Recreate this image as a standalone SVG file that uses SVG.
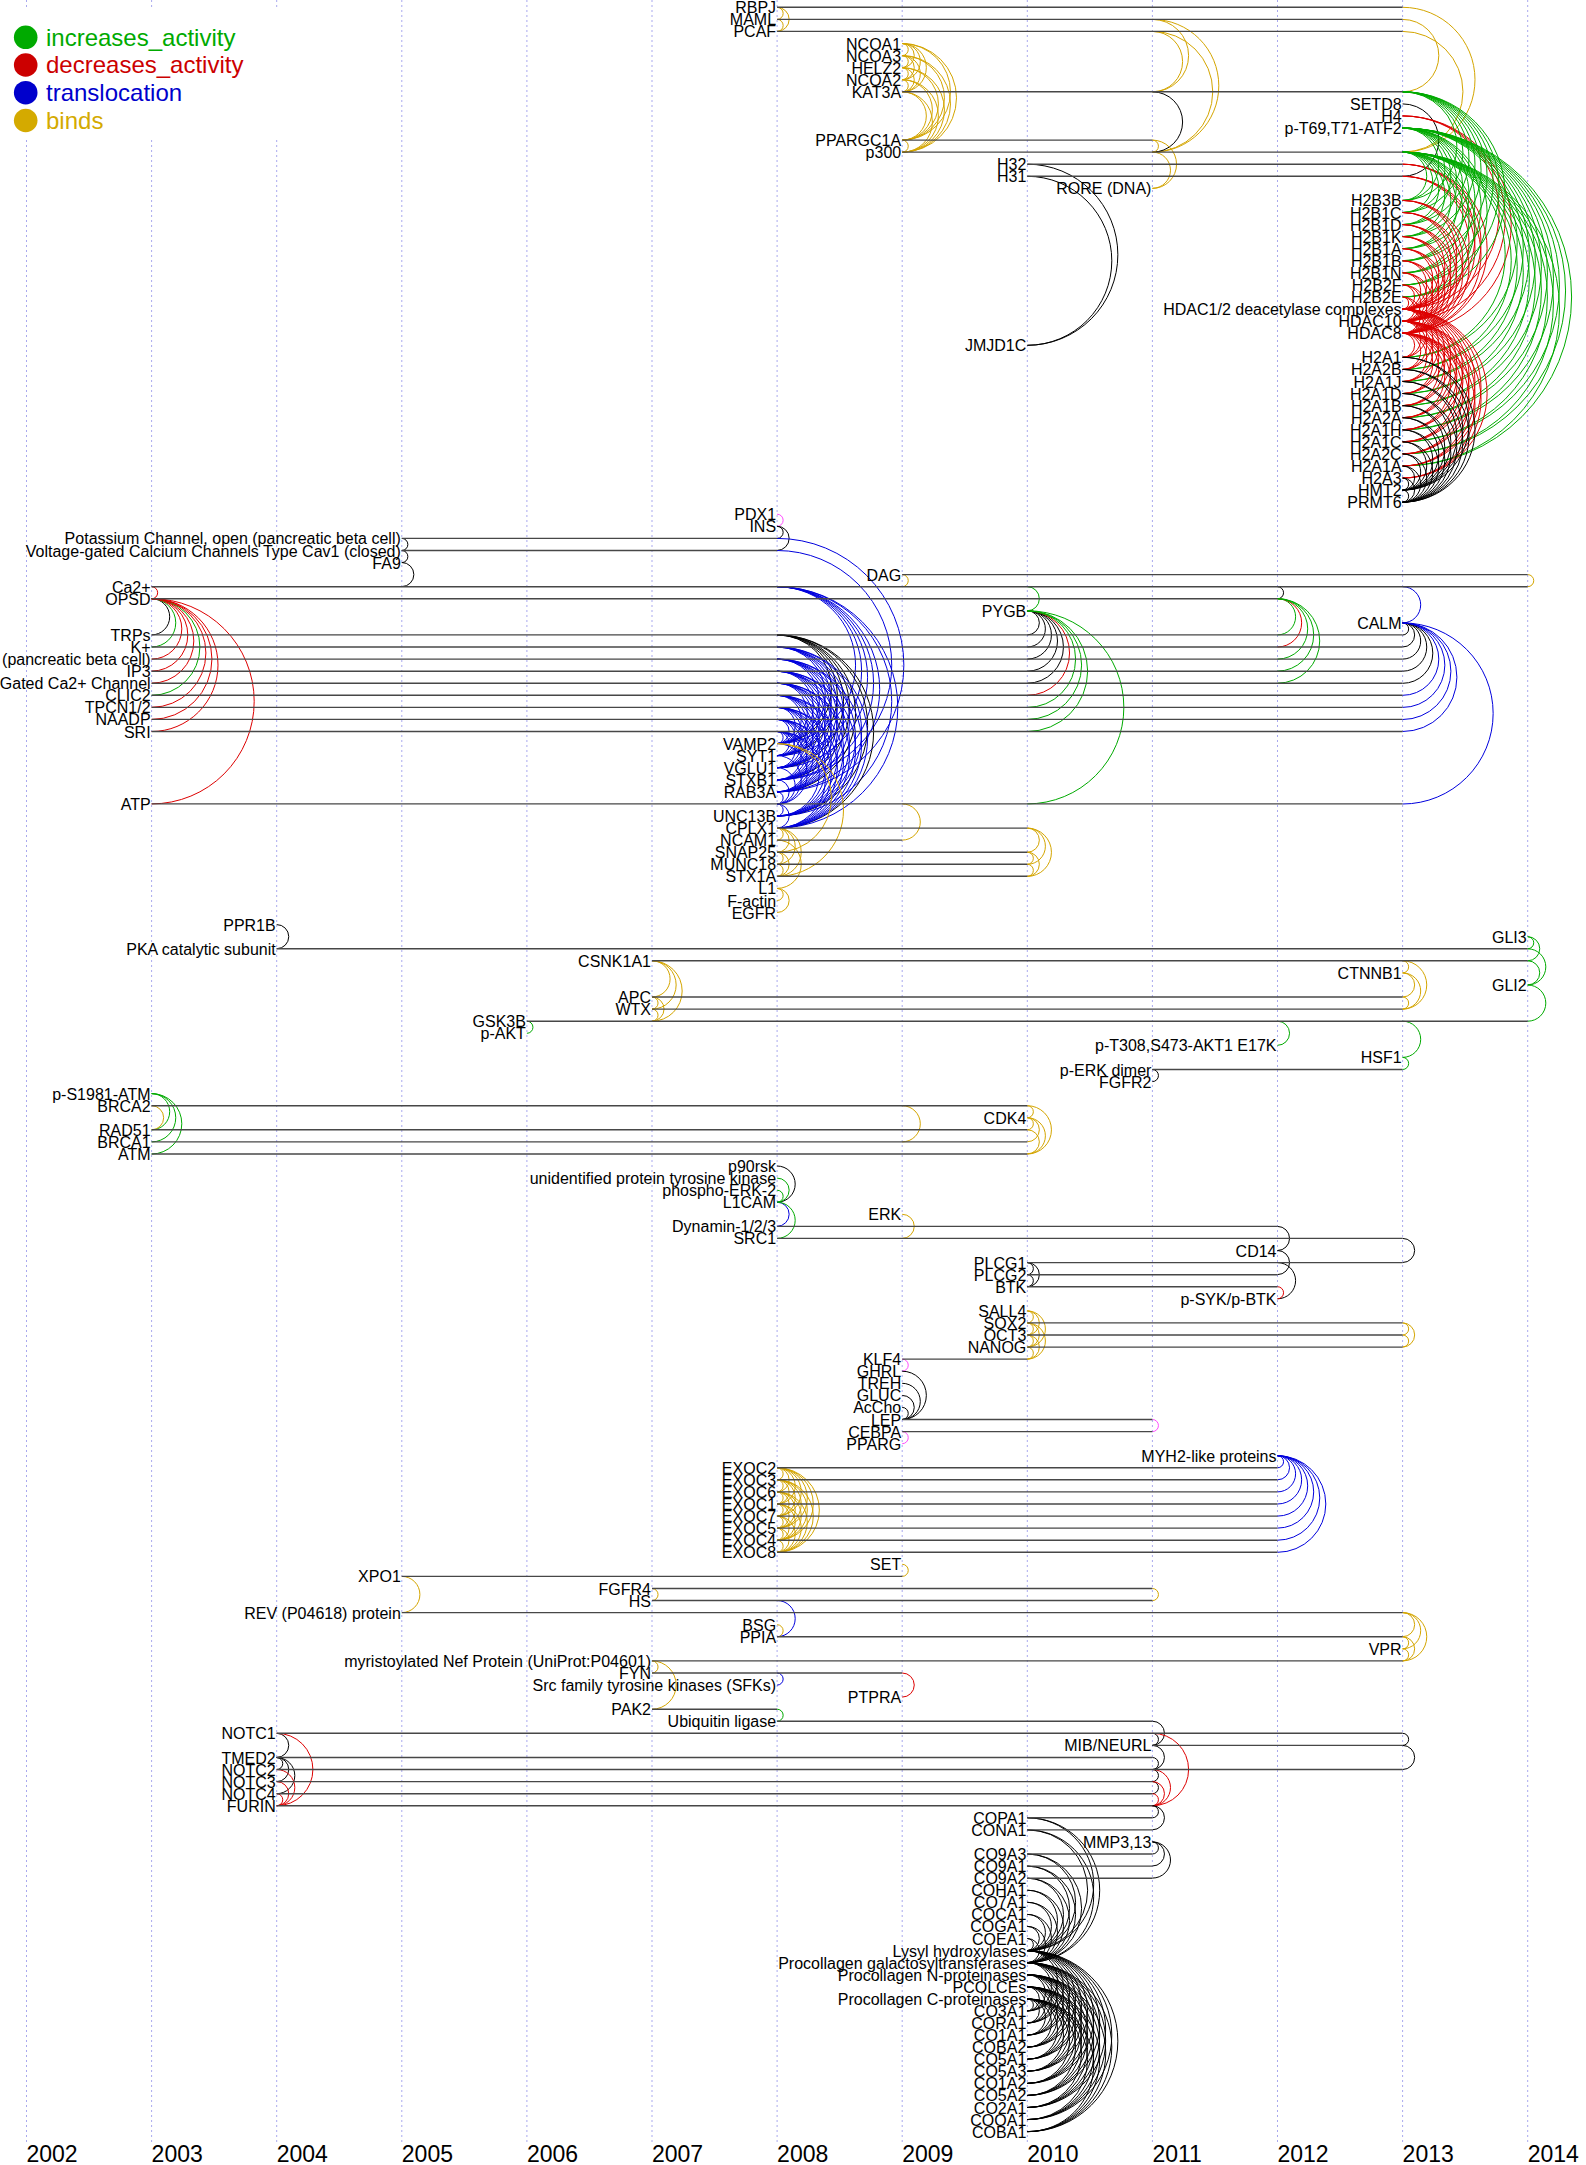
<svg xmlns="http://www.w3.org/2000/svg" width="1586" height="2165" viewBox="0 0 1586 2165">
<style>
text{font-family:"Liberation Sans",Arial,Helvetica,sans-serif;font-size:16px;fill:#000}
.n text{text-anchor:end}
.ln{stroke:#474747;stroke-width:1.4;fill:none}
.gl{stroke:#a9a9ee;stroke-width:1;stroke-dasharray:2,3;fill:none}
#connectors path{fill:none;stroke-width:1}
.g{stroke:#00aa00}.r{stroke:#dd0000}.b{stroke:#0000dd}.y{stroke:#d4a500}.k{stroke:#000}.m{stroke:#ff4dff}
.yr{font-size:23px}
.lt{font-size:24px}
</style>
<rect width="1586" height="2165" fill="#fff"/>
<g id="grid">
<path class="gl" d="M26.5 0V2142M151.6 0V2142M276.7 0V2142M401.8 0V2142M526.9 0V2142M652 0V2142M777.1 0V2142M902.2 0V2142M1027.3 0V2142M1152.4 0V2142M1277.5 0V2142M1402.6 0V2142M1527.7 0V2142"/>
</g>
<g id="legend">
<rect x="0" y="10" width="330" height="128" fill="#fff"/>
<circle cx="25.7" cy="37.3" r="11.8" fill="#00aa00"/>
<circle cx="25.7" cy="65" r="11.8" fill="#cc0000"/>
<circle cx="25.7" cy="92.7" r="11.8" fill="#0000cc"/>
<circle cx="25.7" cy="120.5" r="11.8" fill="#d4aa00"/>
<text class="lt" x="46" y="45.7" style="fill:#00aa00">increases_activity</text>
<text class="lt" x="46" y="73.4" style="fill:#cc0000">decreases_activity</text>
<text class="lt" x="46" y="101.1" style="fill:#0000cc">translocation</text>
<text class="lt" x="46" y="128.9" style="fill:#d4aa00">binds</text>
</g>
<g id="years">
<text class="yr" x="26.5" y="2162">2002</text>
<text class="yr" x="151.6" y="2162">2003</text>
<text class="yr" x="276.7" y="2162">2004</text>
<text class="yr" x="401.8" y="2162">2005</text>
<text class="yr" x="526.9" y="2162">2006</text>
<text class="yr" x="652" y="2162">2007</text>
<text class="yr" x="777.1" y="2162">2008</text>
<text class="yr" x="902.2" y="2162">2009</text>
<text class="yr" x="1027.3" y="2162">2010</text>
<text class="yr" x="1152.4" y="2162">2011</text>
<text class="yr" x="1277.5" y="2162">2012</text>
<text class="yr" x="1402.6" y="2162">2013</text>
<text class="yr" x="1527.7" y="2162">2014</text>
</g>
<g id="connectors">
<g transform="translate(151.6 0)">
<path class="r" d="M0 586.7a1 1 0 0 1 0 12.1"/>
<path class="k" d="M0 598.7a1 1 0 0 1 0 36.2"/>
<path class="g" d="M0 598.7a1 1 0 0 1 0 48.3"/>
<path class="r" d="M0 598.7a1 1 0 0 1 0 60.4"/>
<path class="r" d="M0 598.7a1 1 0 0 1 0 72.4"/>
<path class="r" d="M0 598.7a1 1 0 0 1 0 84.5"/>
<path class="g" d="M0 598.7a1 1 0 0 1 0 96.6"/>
<path class="r" d="M0 598.7a1 1 0 0 1 0 108.6"/>
<path class="r" d="M0 598.7a1 1 0 0 1 0 120.7"/>
<path class="r" d="M0 598.7a1 1 0 0 1 0 132.8"/>
<path class="r" d="M0 598.7a1 1 0 0 1 0 205.2"/>
<path class="g" d="M0 1093.6a1 1 0 0 1 0 36.2"/>
<path class="g" d="M0 1093.6a1 1 0 0 1 0 48.3"/>
<path class="g" d="M0 1093.6a1 1 0 0 1 0 60.4"/>
<path class="y" d="M0 1105.7a1 1 0 0 1 0 24.1"/>
</g>
<g transform="translate(276.7 0)">
<path class="k" d="M0 924.6a1 1 0 0 1 0 24.1"/>
<path class="k" d="M0 1733.3a1 1 0 0 1 0 24.1"/>
<path class="k" d="M0 1757.5a1 1 0 0 1 0 12.1"/>
<path class="k" d="M0 1757.5a1 1 0 0 1 0 24.1"/>
<path class="k" d="M0 1757.5a1 1 0 0 1 0 36.2"/>
<path class="r" d="M0 1733.3a1 1 0 0 1 0 72.4"/>
<path class="r" d="M0 1769.5a1 1 0 0 1 0 36.2"/>
<path class="r" d="M0 1781.6a1 1 0 0 1 0 24.1"/>
<path class="r" d="M0 1793.7a1 1 0 0 1 0 12.1"/>
</g>
<g transform="translate(401.8 0)">
<path class="k" d="M0 538.4a1 1 0 0 1 0 12.1"/>
<path class="k" d="M0 550.5a1 1 0 0 1 0 12.1"/>
<path class="k" d="M0 562.5a1 1 0 0 1 0 24.1"/>
<path class="y" d="M0 1576.4a1 1 0 0 1 0 36.2"/>
</g>
<g transform="translate(526.9 0)">
<path class="g" d="M0 1021.2a1 1 0 0 1 0 12.1"/>
</g>
<g transform="translate(652 0)">
<path class="y" d="M0 960.8a1 1 0 0 1 0 36.2"/>
<path class="y" d="M0 960.8a1 1 0 0 1 0 48.3"/>
<path class="y" d="M0 960.8a1 1 0 0 1 0 60.4"/>
<path class="y" d="M0 997a1 1 0 0 1 0 12.1"/>
<path class="y" d="M0 997a1 1 0 0 1 0 24.1"/>
<path class="y" d="M0 1009.1a1 1 0 0 1 0 12.1"/>
<path class="y" d="M0 1588.5a1 1 0 0 1 0 12.1"/>
<path class="y" d="M0 1660.9a1 1 0 0 1 0 12.1"/>
<path class="y" d="M0 1660.9a1 1 0 0 1 0 48.3"/>
</g>
<g transform="translate(777.1 0)">
<path class="y" d="M0 7.3a1 1 0 0 1 0 12.1"/>
<path class="y" d="M0 19.4a1 1 0 0 1 0 12.1"/>
<path class="y" d="M0 7.3a1 1 0 0 1 0 24.1"/>
<path class="m" d="M0 514.2a1 1 0 0 1 0 12.1"/>
<path class="k" d="M0 526.3a1 1 0 0 1 0 12.1"/>
<path class="k" d="M0 526.3a1 1 0 0 1 0 24.1"/>
<path class="b" d="M0 538.4a1 1 0 0 1 0 253.5"/>
<path class="b" d="M0 550.5a1 1 0 0 1 0 229.3"/>
<path class="b" d="M0 586.7a1 1 0 0 1 0 156.9"/>
<path class="b" d="M0 586.7a1 1 0 0 1 0 169"/>
<path class="b" d="M0 586.7a1 1 0 0 1 0 181.1"/>
<path class="b" d="M0 586.7a1 1 0 0 1 0 193.1"/>
<path class="b" d="M0 586.7a1 1 0 0 1 0 205.2"/>
<path class="b" d="M0 586.7a1 1 0 0 1 0 229.3"/>
<path class="b" d="M0 586.7a1 1 0 0 1 0 241.4"/>
<path class="k" d="M0 634.9a1 1 0 0 1 0 108.6"/>
<path class="k" d="M0 634.9a1 1 0 0 1 0 120.7"/>
<path class="k" d="M0 634.9a1 1 0 0 1 0 132.8"/>
<path class="k" d="M0 634.9a1 1 0 0 1 0 144.8"/>
<path class="k" d="M0 634.9a1 1 0 0 1 0 156.9"/>
<path class="k" d="M0 634.9a1 1 0 0 1 0 181.1"/>
<path class="k" d="M0 634.9a1 1 0 0 1 0 193.1"/>
<path class="b" d="M0 647a1 1 0 0 1 0 96.6"/>
<path class="b" d="M0 647a1 1 0 0 1 0 108.6"/>
<path class="b" d="M0 647a1 1 0 0 1 0 120.7"/>
<path class="b" d="M0 647a1 1 0 0 1 0 132.8"/>
<path class="b" d="M0 647a1 1 0 0 1 0 144.8"/>
<path class="b" d="M0 647a1 1 0 0 1 0 169"/>
<path class="b" d="M0 647a1 1 0 0 1 0 181.1"/>
<path class="b" d="M0 659.1a1 1 0 0 1 0 84.5"/>
<path class="b" d="M0 659.1a1 1 0 0 1 0 96.6"/>
<path class="b" d="M0 659.1a1 1 0 0 1 0 108.6"/>
<path class="b" d="M0 659.1a1 1 0 0 1 0 120.7"/>
<path class="b" d="M0 659.1a1 1 0 0 1 0 132.8"/>
<path class="b" d="M0 659.1a1 1 0 0 1 0 156.9"/>
<path class="b" d="M0 659.1a1 1 0 0 1 0 169"/>
<path class="b" d="M0 671.2a1 1 0 0 1 0 72.4"/>
<path class="b" d="M0 671.2a1 1 0 0 1 0 84.5"/>
<path class="b" d="M0 671.2a1 1 0 0 1 0 96.6"/>
<path class="b" d="M0 671.2a1 1 0 0 1 0 108.6"/>
<path class="b" d="M0 671.2a1 1 0 0 1 0 120.7"/>
<path class="b" d="M0 671.2a1 1 0 0 1 0 144.8"/>
<path class="b" d="M0 671.2a1 1 0 0 1 0 156.9"/>
<path class="b" d="M0 683.2a1 1 0 0 1 0 60.4"/>
<path class="b" d="M0 683.2a1 1 0 0 1 0 72.4"/>
<path class="b" d="M0 683.2a1 1 0 0 1 0 84.5"/>
<path class="b" d="M0 683.2a1 1 0 0 1 0 96.6"/>
<path class="b" d="M0 683.2a1 1 0 0 1 0 108.6"/>
<path class="b" d="M0 683.2a1 1 0 0 1 0 132.8"/>
<path class="b" d="M0 683.2a1 1 0 0 1 0 144.8"/>
<path class="b" d="M0 695.3a1 1 0 0 1 0 48.3"/>
<path class="b" d="M0 695.3a1 1 0 0 1 0 60.4"/>
<path class="b" d="M0 695.3a1 1 0 0 1 0 72.4"/>
<path class="b" d="M0 695.3a1 1 0 0 1 0 84.5"/>
<path class="b" d="M0 695.3a1 1 0 0 1 0 96.6"/>
<path class="b" d="M0 695.3a1 1 0 0 1 0 120.7"/>
<path class="b" d="M0 695.3a1 1 0 0 1 0 132.8"/>
<path class="b" d="M0 707.4a1 1 0 0 1 0 36.2"/>
<path class="b" d="M0 707.4a1 1 0 0 1 0 48.3"/>
<path class="b" d="M0 707.4a1 1 0 0 1 0 60.4"/>
<path class="b" d="M0 707.4a1 1 0 0 1 0 72.4"/>
<path class="b" d="M0 707.4a1 1 0 0 1 0 84.5"/>
<path class="b" d="M0 707.4a1 1 0 0 1 0 108.6"/>
<path class="b" d="M0 707.4a1 1 0 0 1 0 120.7"/>
<path class="b" d="M0 719.4a1 1 0 0 1 0 24.1"/>
<path class="b" d="M0 719.4a1 1 0 0 1 0 36.2"/>
<path class="b" d="M0 719.4a1 1 0 0 1 0 48.3"/>
<path class="b" d="M0 719.4a1 1 0 0 1 0 60.4"/>
<path class="b" d="M0 719.4a1 1 0 0 1 0 72.4"/>
<path class="b" d="M0 719.4a1 1 0 0 1 0 96.6"/>
<path class="b" d="M0 719.4a1 1 0 0 1 0 108.6"/>
<path class="b" d="M0 731.5a1 1 0 0 1 0 12.1"/>
<path class="b" d="M0 731.5a1 1 0 0 1 0 24.1"/>
<path class="b" d="M0 731.5a1 1 0 0 1 0 36.2"/>
<path class="b" d="M0 731.5a1 1 0 0 1 0 48.3"/>
<path class="b" d="M0 731.5a1 1 0 0 1 0 60.4"/>
<path class="b" d="M0 731.5a1 1 0 0 1 0 84.5"/>
<path class="b" d="M0 731.5a1 1 0 0 1 0 96.6"/>
<path class="b" d="M0 743.6a1 1 0 0 1 0 60.4"/>
<path class="b" d="M0 755.6a1 1 0 0 1 0 48.3"/>
<path class="b" d="M0 767.7a1 1 0 0 1 0 36.2"/>
<path class="b" d="M0 779.8a1 1 0 0 1 0 24.1"/>
<path class="b" d="M0 791.9a1 1 0 0 1 0 12.1"/>
<path class="b" d="M0 803.9a1 1 0 0 1 0 12.1"/>
<path class="b" d="M0 803.9a1 1 0 0 1 0 24.1"/>
<path class="y" d="M0 743.6a1 1 0 0 1 0 108.6"/>
<path class="y" d="M0 743.6a1 1 0 0 1 0 132.8"/>
<path class="y" d="M0 828.1a1 1 0 0 1 0 12.1"/>
<path class="y" d="M0 828.1a1 1 0 0 1 0 24.1"/>
<path class="y" d="M0 828.1a1 1 0 0 1 0 36.2"/>
<path class="y" d="M0 828.1a1 1 0 0 1 0 48.3"/>
<path class="y" d="M0 852.2a1 1 0 0 1 0 12.1"/>
<path class="y" d="M0 852.2a1 1 0 0 1 0 24.1"/>
<path class="y" d="M0 864.3a1 1 0 0 1 0 12.1"/>
<path class="y" d="M0 840.1a1 1 0 0 1 0 48.3"/>
<path class="y" d="M0 888.4a1 1 0 0 1 0 12.1"/>
<path class="y" d="M0 888.4a1 1 0 0 1 0 24.1"/>
<path class="k" d="M0 1166a1 1 0 0 1 0 36.2"/>
<path class="g" d="M0 1178.1a1 1 0 0 1 0 24.1"/>
<path class="g" d="M0 1190.2a1 1 0 0 1 0 12.1"/>
<path class="b" d="M0 1202.2a1 1 0 0 1 0 24.1"/>
<path class="g" d="M0 1202.2a1 1 0 0 1 0 36.2"/>
<path class="y" d="M0 1467.8a1 1 0 0 1 0 12.1"/>
<path class="y" d="M0 1467.8a1 1 0 0 1 0 24.1"/>
<path class="y" d="M0 1467.8a1 1 0 0 1 0 36.2"/>
<path class="y" d="M0 1467.8a1 1 0 0 1 0 48.3"/>
<path class="y" d="M0 1467.8a1 1 0 0 1 0 60.4"/>
<path class="y" d="M0 1467.8a1 1 0 0 1 0 72.4"/>
<path class="y" d="M0 1467.8a1 1 0 0 1 0 84.5"/>
<path class="y" d="M0 1479.8a1 1 0 0 1 0 12.1"/>
<path class="y" d="M0 1479.8a1 1 0 0 1 0 24.1"/>
<path class="y" d="M0 1479.8a1 1 0 0 1 0 36.2"/>
<path class="y" d="M0 1479.8a1 1 0 0 1 0 48.3"/>
<path class="y" d="M0 1479.8a1 1 0 0 1 0 60.4"/>
<path class="y" d="M0 1479.8a1 1 0 0 1 0 72.4"/>
<path class="y" d="M0 1491.9a1 1 0 0 1 0 12.1"/>
<path class="y" d="M0 1491.9a1 1 0 0 1 0 24.1"/>
<path class="y" d="M0 1491.9a1 1 0 0 1 0 36.2"/>
<path class="y" d="M0 1491.9a1 1 0 0 1 0 48.3"/>
<path class="y" d="M0 1491.9a1 1 0 0 1 0 60.4"/>
<path class="y" d="M0 1504a1 1 0 0 1 0 12.1"/>
<path class="y" d="M0 1504a1 1 0 0 1 0 24.1"/>
<path class="y" d="M0 1504a1 1 0 0 1 0 36.2"/>
<path class="y" d="M0 1504a1 1 0 0 1 0 48.3"/>
<path class="y" d="M0 1516.1a1 1 0 0 1 0 12.1"/>
<path class="y" d="M0 1516.1a1 1 0 0 1 0 24.1"/>
<path class="y" d="M0 1516.1a1 1 0 0 1 0 36.2"/>
<path class="y" d="M0 1528.1a1 1 0 0 1 0 12.1"/>
<path class="y" d="M0 1528.1a1 1 0 0 1 0 24.1"/>
<path class="y" d="M0 1540.2a1 1 0 0 1 0 12.1"/>
<path class="y" d="M0 1624.7a1 1 0 0 1 0 12.1"/>
<path class="b" d="M0 1600.5a1 1 0 0 1 0 36.2"/>
<path class="b" d="M0 1673a1 1 0 0 1 0 12.1"/>
<path class="g" d="M0 1709.2a1 1 0 0 1 0 12.1"/>
</g>
<g transform="translate(902.2 0)">
<path class="y" d="M0 43.5a1 1 0 0 1 0 12.1"/>
<path class="y" d="M0 43.5a1 1 0 0 1 0 24.1"/>
<path class="y" d="M0 43.5a1 1 0 0 1 0 36.2"/>
<path class="y" d="M0 43.5a1 1 0 0 1 0 48.3"/>
<path class="y" d="M0 43.5a1 1 0 0 1 0 96.6"/>
<path class="y" d="M0 43.5a1 1 0 0 1 0 108.6"/>
<path class="y" d="M0 55.6a1 1 0 0 1 0 12.1"/>
<path class="y" d="M0 55.6a1 1 0 0 1 0 24.1"/>
<path class="y" d="M0 55.6a1 1 0 0 1 0 36.2"/>
<path class="y" d="M0 55.6a1 1 0 0 1 0 84.5"/>
<path class="y" d="M0 55.6a1 1 0 0 1 0 96.6"/>
<path class="y" d="M0 67.7a1 1 0 0 1 0 12.1"/>
<path class="y" d="M0 67.7a1 1 0 0 1 0 24.1"/>
<path class="y" d="M0 67.7a1 1 0 0 1 0 72.4"/>
<path class="y" d="M0 67.7a1 1 0 0 1 0 84.5"/>
<path class="y" d="M0 79.7a1 1 0 0 1 0 12.1"/>
<path class="y" d="M0 79.7a1 1 0 0 1 0 60.4"/>
<path class="y" d="M0 79.7a1 1 0 0 1 0 72.4"/>
<path class="y" d="M0 91.8a1 1 0 0 1 0 48.3"/>
<path class="y" d="M0 91.8a1 1 0 0 1 0 60.4"/>
<path class="y" d="M0 140.1a1 1 0 0 1 0 12.1"/>
<path class="y" d="M0 574.6a1 1 0 0 1 0 12.1"/>
<path class="y" d="M0 803.9a1 1 0 0 1 0 36.2"/>
<path class="y" d="M0 1105.7a1 1 0 0 1 0 36.2"/>
<path class="y" d="M0 1214.3a1 1 0 0 1 0 24.1"/>
<path class="m" d="M0 1359.1a1 1 0 0 1 0 12.1"/>
<path class="k" d="M0 1371.2a1 1 0 0 1 0 48.3"/>
<path class="k" d="M0 1383.3a1 1 0 0 1 0 36.2"/>
<path class="k" d="M0 1395.4a1 1 0 0 1 0 24.1"/>
<path class="k" d="M0 1407.4a1 1 0 0 1 0 12.1"/>
<path class="m" d="M0 1431.6a1 1 0 0 1 0 12.1"/>
<path class="y" d="M0 1564.3a1 1 0 0 1 0 12.1"/>
<path class="r" d="M0 1673a1 1 0 0 1 0 24.1"/>
</g>
<g transform="translate(1027.3 0)">
<path class="k" d="M0 164.2a1 1 0 0 1 0 181.1"/>
<path class="k" d="M0 176.3a1 1 0 0 1 0 169"/>
<path class="g" d="M0 586.7a1 1 0 0 1 0 24.1"/>
<path class="k" d="M0 610.8a1 1 0 0 1 0 24.1"/>
<path class="k" d="M0 610.8a1 1 0 0 1 0 36.2"/>
<path class="k" d="M0 610.8a1 1 0 0 1 0 48.3"/>
<path class="k" d="M0 610.8a1 1 0 0 1 0 60.4"/>
<path class="k" d="M0 610.8a1 1 0 0 1 0 72.4"/>
<path class="r" d="M0 610.8a1 1 0 0 1 0 84.5"/>
<path class="g" d="M0 610.8a1 1 0 0 1 0 96.6"/>
<path class="g" d="M0 610.8a1 1 0 0 1 0 108.6"/>
<path class="g" d="M0 610.8a1 1 0 0 1 0 120.7"/>
<path class="g" d="M0 610.8a1 1 0 0 1 0 193.1"/>
<path class="y" d="M0 828.1a1 1 0 0 1 0 24.1"/>
<path class="y" d="M0 828.1a1 1 0 0 1 0 36.2"/>
<path class="y" d="M0 828.1a1 1 0 0 1 0 48.3"/>
<path class="y" d="M0 852.2a1 1 0 0 1 0 12.1"/>
<path class="y" d="M0 852.2a1 1 0 0 1 0 24.1"/>
<path class="y" d="M0 864.3a1 1 0 0 1 0 12.1"/>
<path class="y" d="M0 1105.7a1 1 0 0 1 0 12.1"/>
<path class="y" d="M0 1105.7a1 1 0 0 1 0 48.3"/>
<path class="y" d="M0 1117.7a1 1 0 0 1 0 12.1"/>
<path class="y" d="M0 1117.7a1 1 0 0 1 0 24.1"/>
<path class="y" d="M0 1117.7a1 1 0 0 1 0 36.2"/>
<path class="y" d="M0 1129.8a1 1 0 0 1 0 24.1"/>
<path class="k" d="M0 1262.6a1 1 0 0 1 0 12.1"/>
<path class="k" d="M0 1262.6a1 1 0 0 1 0 24.1"/>
<path class="k" d="M0 1274.7a1 1 0 0 1 0 12.1"/>
<path class="y" d="M0 1310.9a1 1 0 0 1 0 12.1"/>
<path class="y" d="M0 1310.9a1 1 0 0 1 0 24.1"/>
<path class="y" d="M0 1310.9a1 1 0 0 1 0 36.2"/>
<path class="y" d="M0 1322.9a1 1 0 0 1 0 12.1"/>
<path class="y" d="M0 1322.9a1 1 0 0 1 0 24.1"/>
<path class="y" d="M0 1322.9a1 1 0 0 1 0 36.2"/>
<path class="y" d="M0 1335a1 1 0 0 1 0 12.1"/>
<path class="y" d="M0 1335a1 1 0 0 1 0 24.1"/>
<path class="y" d="M0 1347.1a1 1 0 0 1 0 12.1"/>
<path class="k" d="M0 1817.8a1 1 0 0 1 0 132.8"/>
<path class="k" d="M0 1817.8a1 1 0 0 1 0 144.8"/>
<path class="k" d="M0 1829.9a1 1 0 0 1 0 120.7"/>
<path class="k" d="M0 1829.9a1 1 0 0 1 0 132.8"/>
<path class="k" d="M0 1854a1 1 0 0 1 0 96.6"/>
<path class="k" d="M0 1854a1 1 0 0 1 0 108.6"/>
<path class="k" d="M0 1866.1a1 1 0 0 1 0 84.5"/>
<path class="k" d="M0 1866.1a1 1 0 0 1 0 96.6"/>
<path class="k" d="M0 1878.2a1 1 0 0 1 0 72.4"/>
<path class="k" d="M0 1878.2a1 1 0 0 1 0 84.5"/>
<path class="k" d="M0 1890.2a1 1 0 0 1 0 60.4"/>
<path class="k" d="M0 1890.2a1 1 0 0 1 0 72.4"/>
<path class="k" d="M0 1902.3a1 1 0 0 1 0 48.3"/>
<path class="k" d="M0 1902.3a1 1 0 0 1 0 60.4"/>
<path class="k" d="M0 1914.4a1 1 0 0 1 0 36.2"/>
<path class="k" d="M0 1914.4a1 1 0 0 1 0 48.3"/>
<path class="k" d="M0 1926.4a1 1 0 0 1 0 24.1"/>
<path class="k" d="M0 1926.4a1 1 0 0 1 0 36.2"/>
<path class="k" d="M0 1938.5a1 1 0 0 1 0 12.1"/>
<path class="k" d="M0 1938.5a1 1 0 0 1 0 24.1"/>
<path class="k" d="M0 1950.6a1 1 0 0 1 0 60.4"/>
<path class="k" d="M0 1950.6a1 1 0 0 1 0 72.4"/>
<path class="k" d="M0 1950.6a1 1 0 0 1 0 84.5"/>
<path class="k" d="M0 1950.6a1 1 0 0 1 0 96.6"/>
<path class="k" d="M0 1950.6a1 1 0 0 1 0 108.6"/>
<path class="k" d="M0 1950.6a1 1 0 0 1 0 120.7"/>
<path class="k" d="M0 1950.6a1 1 0 0 1 0 132.8"/>
<path class="k" d="M0 1950.6a1 1 0 0 1 0 144.8"/>
<path class="k" d="M0 1950.6a1 1 0 0 1 0 156.9"/>
<path class="k" d="M0 1950.6a1 1 0 0 1 0 169"/>
<path class="k" d="M0 1950.6a1 1 0 0 1 0 181.1"/>
<path class="k" d="M0 1962.6a1 1 0 0 1 0 48.3"/>
<path class="k" d="M0 1962.6a1 1 0 0 1 0 60.4"/>
<path class="k" d="M0 1962.6a1 1 0 0 1 0 72.4"/>
<path class="k" d="M0 1962.6a1 1 0 0 1 0 84.5"/>
<path class="k" d="M0 1962.6a1 1 0 0 1 0 96.6"/>
<path class="k" d="M0 1962.6a1 1 0 0 1 0 108.6"/>
<path class="k" d="M0 1962.6a1 1 0 0 1 0 120.7"/>
<path class="k" d="M0 1962.6a1 1 0 0 1 0 132.8"/>
<path class="k" d="M0 1962.6a1 1 0 0 1 0 144.8"/>
<path class="k" d="M0 1962.6a1 1 0 0 1 0 156.9"/>
<path class="k" d="M0 1962.6a1 1 0 0 1 0 169"/>
<path class="k" d="M0 1974.7a1 1 0 0 1 0 36.2"/>
<path class="k" d="M0 1974.7a1 1 0 0 1 0 48.3"/>
<path class="k" d="M0 1974.7a1 1 0 0 1 0 60.4"/>
<path class="k" d="M0 1974.7a1 1 0 0 1 0 72.4"/>
<path class="k" d="M0 1974.7a1 1 0 0 1 0 84.5"/>
<path class="k" d="M0 1974.7a1 1 0 0 1 0 96.6"/>
<path class="k" d="M0 1974.7a1 1 0 0 1 0 108.6"/>
<path class="k" d="M0 1974.7a1 1 0 0 1 0 120.7"/>
<path class="k" d="M0 1974.7a1 1 0 0 1 0 132.8"/>
<path class="k" d="M0 1974.7a1 1 0 0 1 0 144.8"/>
<path class="k" d="M0 1974.7a1 1 0 0 1 0 156.9"/>
<path class="k" d="M0 1986.8a1 1 0 0 1 0 24.1"/>
<path class="k" d="M0 1986.8a1 1 0 0 1 0 36.2"/>
<path class="k" d="M0 1986.8a1 1 0 0 1 0 48.3"/>
<path class="k" d="M0 1986.8a1 1 0 0 1 0 60.4"/>
<path class="k" d="M0 1986.8a1 1 0 0 1 0 72.4"/>
<path class="k" d="M0 1986.8a1 1 0 0 1 0 84.5"/>
<path class="k" d="M0 1986.8a1 1 0 0 1 0 96.6"/>
<path class="k" d="M0 1986.8a1 1 0 0 1 0 108.6"/>
<path class="k" d="M0 1986.8a1 1 0 0 1 0 120.7"/>
<path class="k" d="M0 1986.8a1 1 0 0 1 0 132.8"/>
<path class="k" d="M0 1986.8a1 1 0 0 1 0 144.8"/>
<path class="k" d="M0 1998.9a1 1 0 0 1 0 12.1"/>
<path class="k" d="M0 1998.9a1 1 0 0 1 0 24.1"/>
<path class="k" d="M0 1998.9a1 1 0 0 1 0 36.2"/>
<path class="k" d="M0 1998.9a1 1 0 0 1 0 48.3"/>
<path class="k" d="M0 1998.9a1 1 0 0 1 0 60.4"/>
<path class="k" d="M0 1998.9a1 1 0 0 1 0 72.4"/>
<path class="k" d="M0 1998.9a1 1 0 0 1 0 84.5"/>
<path class="k" d="M0 1998.9a1 1 0 0 1 0 96.6"/>
<path class="k" d="M0 1998.9a1 1 0 0 1 0 108.6"/>
<path class="k" d="M0 1998.9a1 1 0 0 1 0 120.7"/>
<path class="k" d="M0 1998.9a1 1 0 0 1 0 132.8"/>
</g>
<g transform="translate(1152.4 0)">
<path class="y" d="M0 19.4a1 1 0 0 1 0 72.4"/>
<path class="y" d="M0 31.4a1 1 0 0 1 0 60.4"/>
<path class="y" d="M0 19.4a1 1 0 0 1 0 132.8"/>
<path class="y" d="M0 31.4a1 1 0 0 1 0 120.7"/>
<path class="k" d="M0 91.8a1 1 0 0 1 0 60.4"/>
<path class="y" d="M0 140.1a1 1 0 0 1 0 12.1"/>
<path class="y" d="M0 140.1a1 1 0 0 1 0 48.3"/>
<path class="y" d="M0 152.1a1 1 0 0 1 0 36.2"/>
<path class="k" d="M0 1069.5a1 1 0 0 1 0 12.1"/>
<path class="m" d="M0 1419.5a1 1 0 0 1 0 12.1"/>
<path class="y" d="M0 1588.5a1 1 0 0 1 0 12.1"/>
<path class="k" d="M0 1721.2a1 1 0 0 1 0 24.1"/>
<path class="k" d="M0 1733.3a1 1 0 0 1 0 12.1"/>
<path class="k" d="M0 1745.4a1 1 0 0 1 0 24.1"/>
<path class="k" d="M0 1757.5a1 1 0 0 1 0 12.1"/>
<path class="k" d="M0 1769.5a1 1 0 0 1 0 12.1"/>
<path class="k" d="M0 1781.6a1 1 0 0 1 0 12.1"/>
<path class="r" d="M0 1733.3a1 1 0 0 1 0 72.4"/>
<path class="r" d="M0 1769.5a1 1 0 0 1 0 36.2"/>
<path class="r" d="M0 1781.6a1 1 0 0 1 0 24.1"/>
<path class="r" d="M0 1793.7a1 1 0 0 1 0 12.1"/>
<path class="k" d="M0 1805.7a1 1 0 0 1 0 12.1"/>
<path class="k" d="M0 1805.7a1 1 0 0 1 0 24.1"/>
<path class="k" d="M0 1841.9a1 1 0 0 1 0 12.1"/>
<path class="k" d="M0 1841.9a1 1 0 0 1 0 24.1"/>
<path class="k" d="M0 1841.9a1 1 0 0 1 0 36.2"/>
</g>
<g transform="translate(1277.5 0)">
<path class="k" d="M0 586.7a1 1 0 0 1 0 12.1"/>
<path class="g" d="M0 598.7a1 1 0 0 1 0 36.2"/>
<path class="r" d="M0 598.7a1 1 0 0 1 0 48.3"/>
<path class="g" d="M0 598.7a1 1 0 0 1 0 60.4"/>
<path class="g" d="M0 598.7a1 1 0 0 1 0 72.4"/>
<path class="g" d="M0 598.7a1 1 0 0 1 0 84.5"/>
<path class="g" d="M0 1021.2a1 1 0 0 1 0 24.1"/>
<path class="k" d="M0 1226.4a1 1 0 0 1 0 24.1"/>
<path class="k" d="M0 1250.5a1 1 0 0 1 0 24.1"/>
<path class="k" d="M0 1262.6a1 1 0 0 1 0 36.2"/>
<path class="r" d="M0 1286.7a1 1 0 0 1 0 12.1"/>
<path class="b" d="M0 1455.7a1 1 0 0 1 0 12.1"/>
<path class="b" d="M0 1455.7a1 1 0 0 1 0 24.1"/>
<path class="b" d="M0 1455.7a1 1 0 0 1 0 36.2"/>
<path class="b" d="M0 1455.7a1 1 0 0 1 0 48.3"/>
<path class="b" d="M0 1455.7a1 1 0 0 1 0 60.4"/>
<path class="b" d="M0 1455.7a1 1 0 0 1 0 72.4"/>
<path class="b" d="M0 1455.7a1 1 0 0 1 0 84.5"/>
<path class="b" d="M0 1455.7a1 1 0 0 1 0 96.6"/>
</g>
<g transform="translate(1402.6 0)">
<path class="y" d="M0 7.3a1 1 0 0 1 0 144.8"/>
<path class="y" d="M0 19.4a1 1 0 0 1 0 72.4"/>
<path class="y" d="M0 31.4a1 1 0 0 1 0 120.7"/>
<path class="k" d="M0 103.9a1 1 0 0 1 0 72.4"/>
<path class="r" d="M0 115.9a1 1 0 0 1 0 193.1"/>
<path class="r" d="M0 115.9a1 1 0 0 1 0 205.2"/>
<path class="r" d="M0 115.9a1 1 0 0 1 0 217.3"/>
<path class="r" d="M0 164.2a1 1 0 0 1 0 144.8"/>
<path class="r" d="M0 164.2a1 1 0 0 1 0 156.9"/>
<path class="r" d="M0 164.2a1 1 0 0 1 0 169"/>
<path class="r" d="M0 176.3a1 1 0 0 1 0 132.8"/>
<path class="r" d="M0 176.3a1 1 0 0 1 0 144.8"/>
<path class="r" d="M0 176.3a1 1 0 0 1 0 156.9"/>
<path class="g" d="M0 91.8a1 1 0 0 1 0 108.6"/>
<path class="g" d="M0 91.8a1 1 0 0 1 0 120.7"/>
<path class="g" d="M0 91.8a1 1 0 0 1 0 132.8"/>
<path class="g" d="M0 91.8a1 1 0 0 1 0 144.8"/>
<path class="g" d="M0 91.8a1 1 0 0 1 0 156.9"/>
<path class="g" d="M0 91.8a1 1 0 0 1 0 169"/>
<path class="g" d="M0 91.8a1 1 0 0 1 0 181.1"/>
<path class="g" d="M0 91.8a1 1 0 0 1 0 193.1"/>
<path class="g" d="M0 91.8a1 1 0 0 1 0 205.2"/>
<path class="g" d="M0 128a1 1 0 0 1 0 72.4"/>
<path class="g" d="M0 128a1 1 0 0 1 0 84.5"/>
<path class="g" d="M0 128a1 1 0 0 1 0 96.6"/>
<path class="g" d="M0 128a1 1 0 0 1 0 108.6"/>
<path class="g" d="M0 128a1 1 0 0 1 0 120.7"/>
<path class="g" d="M0 128a1 1 0 0 1 0 132.8"/>
<path class="g" d="M0 128a1 1 0 0 1 0 144.8"/>
<path class="g" d="M0 128a1 1 0 0 1 0 156.9"/>
<path class="g" d="M0 128a1 1 0 0 1 0 169"/>
<path class="g" d="M0 152.1a1 1 0 0 1 0 48.3"/>
<path class="g" d="M0 152.1a1 1 0 0 1 0 60.4"/>
<path class="g" d="M0 152.1a1 1 0 0 1 0 72.4"/>
<path class="g" d="M0 152.1a1 1 0 0 1 0 84.5"/>
<path class="g" d="M0 152.1a1 1 0 0 1 0 96.6"/>
<path class="g" d="M0 152.1a1 1 0 0 1 0 108.6"/>
<path class="g" d="M0 152.1a1 1 0 0 1 0 120.7"/>
<path class="g" d="M0 152.1a1 1 0 0 1 0 132.8"/>
<path class="g" d="M0 152.1a1 1 0 0 1 0 144.8"/>
<path class="g" d="M0 128a1 1 0 0 1 0 229.3"/>
<path class="g" d="M0 128a1 1 0 0 1 0 241.4"/>
<path class="g" d="M0 128a1 1 0 0 1 0 253.5"/>
<path class="g" d="M0 128a1 1 0 0 1 0 265.5"/>
<path class="g" d="M0 128a1 1 0 0 1 0 277.6"/>
<path class="g" d="M0 128a1 1 0 0 1 0 289.7"/>
<path class="g" d="M0 128a1 1 0 0 1 0 301.8"/>
<path class="g" d="M0 128a1 1 0 0 1 0 313.8"/>
<path class="g" d="M0 128a1 1 0 0 1 0 325.9"/>
<path class="g" d="M0 128a1 1 0 0 1 0 338"/>
<path class="g" d="M0 152.1a1 1 0 0 1 0 205.2"/>
<path class="g" d="M0 152.1a1 1 0 0 1 0 217.3"/>
<path class="g" d="M0 152.1a1 1 0 0 1 0 229.3"/>
<path class="g" d="M0 152.1a1 1 0 0 1 0 241.4"/>
<path class="g" d="M0 152.1a1 1 0 0 1 0 253.5"/>
<path class="g" d="M0 152.1a1 1 0 0 1 0 265.5"/>
<path class="g" d="M0 152.1a1 1 0 0 1 0 277.6"/>
<path class="g" d="M0 152.1a1 1 0 0 1 0 289.7"/>
<path class="g" d="M0 152.1a1 1 0 0 1 0 301.8"/>
<path class="g" d="M0 152.1a1 1 0 0 1 0 313.8"/>
<path class="r" d="M0 200.4a1 1 0 0 1 0 108.6"/>
<path class="r" d="M0 212.5a1 1 0 0 1 0 96.6"/>
<path class="r" d="M0 224.6a1 1 0 0 1 0 84.5"/>
<path class="r" d="M0 236.6a1 1 0 0 1 0 72.4"/>
<path class="r" d="M0 248.7a1 1 0 0 1 0 60.4"/>
<path class="r" d="M0 260.8a1 1 0 0 1 0 48.3"/>
<path class="r" d="M0 272.8a1 1 0 0 1 0 36.2"/>
<path class="r" d="M0 284.9a1 1 0 0 1 0 24.1"/>
<path class="r" d="M0 297a1 1 0 0 1 0 12.1"/>
<path class="r" d="M0 200.4a1 1 0 0 1 0 120.7"/>
<path class="r" d="M0 212.5a1 1 0 0 1 0 108.6"/>
<path class="r" d="M0 224.6a1 1 0 0 1 0 96.6"/>
<path class="r" d="M0 236.6a1 1 0 0 1 0 84.5"/>
<path class="r" d="M0 248.7a1 1 0 0 1 0 72.4"/>
<path class="r" d="M0 260.8a1 1 0 0 1 0 60.4"/>
<path class="r" d="M0 272.8a1 1 0 0 1 0 48.3"/>
<path class="r" d="M0 284.9a1 1 0 0 1 0 36.2"/>
<path class="r" d="M0 297a1 1 0 0 1 0 24.1"/>
<path class="r" d="M0 200.4a1 1 0 0 1 0 132.8"/>
<path class="r" d="M0 212.5a1 1 0 0 1 0 120.7"/>
<path class="r" d="M0 224.6a1 1 0 0 1 0 108.6"/>
<path class="r" d="M0 236.6a1 1 0 0 1 0 96.6"/>
<path class="r" d="M0 248.7a1 1 0 0 1 0 84.5"/>
<path class="r" d="M0 260.8a1 1 0 0 1 0 72.4"/>
<path class="r" d="M0 272.8a1 1 0 0 1 0 60.4"/>
<path class="r" d="M0 284.9a1 1 0 0 1 0 48.3"/>
<path class="r" d="M0 297a1 1 0 0 1 0 36.2"/>
<path class="r" d="M0 309.1a1 1 0 0 1 0 48.3"/>
<path class="r" d="M0 309.1a1 1 0 0 1 0 60.4"/>
<path class="r" d="M0 309.1a1 1 0 0 1 0 72.4"/>
<path class="r" d="M0 309.1a1 1 0 0 1 0 84.5"/>
<path class="r" d="M0 309.1a1 1 0 0 1 0 96.6"/>
<path class="r" d="M0 309.1a1 1 0 0 1 0 108.6"/>
<path class="r" d="M0 309.1a1 1 0 0 1 0 120.7"/>
<path class="r" d="M0 309.1a1 1 0 0 1 0 132.8"/>
<path class="r" d="M0 309.1a1 1 0 0 1 0 144.8"/>
<path class="r" d="M0 309.1a1 1 0 0 1 0 156.9"/>
<path class="r" d="M0 309.1a1 1 0 0 1 0 169"/>
<path class="r" d="M0 321.1a1 1 0 0 1 0 36.2"/>
<path class="r" d="M0 321.1a1 1 0 0 1 0 48.3"/>
<path class="r" d="M0 321.1a1 1 0 0 1 0 60.4"/>
<path class="r" d="M0 321.1a1 1 0 0 1 0 72.4"/>
<path class="r" d="M0 321.1a1 1 0 0 1 0 84.5"/>
<path class="r" d="M0 321.1a1 1 0 0 1 0 96.6"/>
<path class="r" d="M0 321.1a1 1 0 0 1 0 108.6"/>
<path class="r" d="M0 321.1a1 1 0 0 1 0 120.7"/>
<path class="r" d="M0 321.1a1 1 0 0 1 0 132.8"/>
<path class="r" d="M0 321.1a1 1 0 0 1 0 144.8"/>
<path class="r" d="M0 321.1a1 1 0 0 1 0 156.9"/>
<path class="r" d="M0 333.2a1 1 0 0 1 0 24.1"/>
<path class="r" d="M0 333.2a1 1 0 0 1 0 36.2"/>
<path class="r" d="M0 333.2a1 1 0 0 1 0 48.3"/>
<path class="r" d="M0 333.2a1 1 0 0 1 0 60.4"/>
<path class="r" d="M0 333.2a1 1 0 0 1 0 72.4"/>
<path class="r" d="M0 333.2a1 1 0 0 1 0 84.5"/>
<path class="r" d="M0 333.2a1 1 0 0 1 0 96.6"/>
<path class="r" d="M0 333.2a1 1 0 0 1 0 108.6"/>
<path class="r" d="M0 333.2a1 1 0 0 1 0 120.7"/>
<path class="r" d="M0 333.2a1 1 0 0 1 0 132.8"/>
<path class="r" d="M0 333.2a1 1 0 0 1 0 144.8"/>
<path class="k" d="M0 357.3a1 1 0 0 1 0 132.8"/>
<path class="k" d="M0 369.4a1 1 0 0 1 0 120.7"/>
<path class="k" d="M0 381.5a1 1 0 0 1 0 108.6"/>
<path class="k" d="M0 393.5a1 1 0 0 1 0 96.6"/>
<path class="k" d="M0 405.6a1 1 0 0 1 0 84.5"/>
<path class="k" d="M0 417.7a1 1 0 0 1 0 72.4"/>
<path class="k" d="M0 429.8a1 1 0 0 1 0 60.4"/>
<path class="k" d="M0 441.8a1 1 0 0 1 0 48.3"/>
<path class="k" d="M0 453.9a1 1 0 0 1 0 36.2"/>
<path class="k" d="M0 466a1 1 0 0 1 0 24.1"/>
<path class="k" d="M0 478a1 1 0 0 1 0 12.1"/>
<path class="k" d="M0 357.3a1 1 0 0 1 0 144.8"/>
<path class="k" d="M0 369.4a1 1 0 0 1 0 132.8"/>
<path class="k" d="M0 381.5a1 1 0 0 1 0 120.7"/>
<path class="k" d="M0 393.5a1 1 0 0 1 0 108.6"/>
<path class="k" d="M0 405.6a1 1 0 0 1 0 96.6"/>
<path class="k" d="M0 417.7a1 1 0 0 1 0 84.5"/>
<path class="k" d="M0 429.8a1 1 0 0 1 0 72.4"/>
<path class="k" d="M0 441.8a1 1 0 0 1 0 60.4"/>
<path class="k" d="M0 453.9a1 1 0 0 1 0 48.3"/>
<path class="k" d="M0 466a1 1 0 0 1 0 36.2"/>
<path class="k" d="M0 478a1 1 0 0 1 0 24.1"/>
<path class="k" d="M0 490.1a1 1 0 0 1 0 12.1"/>
<path class="b" d="M0 586.7a1 1 0 0 1 0 36.2"/>
<path class="k" d="M0 622.9a1 1 0 0 1 0 12.1"/>
<path class="k" d="M0 622.9a1 1 0 0 1 0 24.1"/>
<path class="k" d="M0 622.9a1 1 0 0 1 0 36.2"/>
<path class="k" d="M0 622.9a1 1 0 0 1 0 48.3"/>
<path class="k" d="M0 622.9a1 1 0 0 1 0 60.4"/>
<path class="b" d="M0 622.9a1 1 0 0 1 0 72.4"/>
<path class="b" d="M0 622.9a1 1 0 0 1 0 84.5"/>
<path class="b" d="M0 622.9a1 1 0 0 1 0 96.6"/>
<path class="b" d="M0 622.9a1 1 0 0 1 0 108.6"/>
<path class="b" d="M0 622.9a1 1 0 0 1 0 181.1"/>
<path class="y" d="M0 960.8a1 1 0 0 1 0 12.1"/>
<path class="y" d="M0 960.8a1 1 0 0 1 0 48.3"/>
<path class="y" d="M0 972.9a1 1 0 0 1 0 24.1"/>
<path class="y" d="M0 972.9a1 1 0 0 1 0 36.2"/>
<path class="y" d="M0 997a1 1 0 0 1 0 12.1"/>
<path class="g" d="M0 1021.2a1 1 0 0 1 0 36.2"/>
<path class="g" d="M0 1057.4a1 1 0 0 1 0 12.1"/>
<path class="k" d="M0 1238.4a1 1 0 0 1 0 24.1"/>
<path class="y" d="M0 1322.9a1 1 0 0 1 0 12.1"/>
<path class="y" d="M0 1322.9a1 1 0 0 1 0 24.1"/>
<path class="y" d="M0 1335a1 1 0 0 1 0 12.1"/>
<path class="y" d="M0 1612.6a1 1 0 0 1 0 24.1"/>
<path class="y" d="M0 1612.6a1 1 0 0 1 0 36.2"/>
<path class="y" d="M0 1612.6a1 1 0 0 1 0 48.3"/>
<path class="y" d="M0 1636.8a1 1 0 0 1 0 12.1"/>
<path class="y" d="M0 1636.8a1 1 0 0 1 0 24.1"/>
<path class="y" d="M0 1648.8a1 1 0 0 1 0 12.1"/>
<path class="k" d="M0 1733.3a1 1 0 0 1 0 12.1"/>
<path class="k" d="M0 1745.4a1 1 0 0 1 0 24.1"/>
</g>
<g transform="translate(1527.7 0)">
<path class="y" d="M0 574.6a1 1 0 0 1 0 12.1"/>
<path class="g" d="M0 936.7a1 1 0 0 1 0 12.1"/>
<path class="g" d="M0 936.7a1 1 0 0 1 0 24.1"/>
<path class="g" d="M0 948.8a1 1 0 0 1 0 36.2"/>
<path class="g" d="M0 960.8a1 1 0 0 1 0 24.1"/>
<path class="g" d="M0 985a1 1 0 0 1 0 36.2"/>
</g>
</g>
<g id="nodes" class="n">
<g id="n0"><text x="776.1" y="13.3">RBPJ</text><path class="ln" d="M777.1 7.3H1402.6"/></g>
<g id="n1"><text x="776.1" y="25.4">MAML</text><path class="ln" d="M777.1 19.4H1402.6"/></g>
<g id="n2"><text x="776.1" y="37.4">PCAF</text><path class="ln" d="M777.1 31.4H1402.6"/></g>
<g id="n3"><text x="901.2" y="49.5">NCOA1</text></g>
<g id="n4"><text x="901.2" y="61.6">NCOA3</text></g>
<g id="n5"><text x="901.2" y="73.7">HELZ2</text></g>
<g id="n6"><text x="901.2" y="85.7">NCOA2</text></g>
<g id="n7"><text x="901.2" y="97.8">KAT3A</text><path class="ln" d="M902.2 91.8H1402.6"/></g>
<g id="n8"><text x="1401.6" y="109.9">SETD8</text></g>
<g id="n9"><text x="1401.6" y="121.9">H4</text></g>
<g id="n10"><text x="1401.6" y="134">p-T69,T71-ATF2</text></g>
<g id="n11"><text x="901.2" y="146.1">PPARGC1A</text><path class="ln" d="M902.2 140.1H1152.4"/></g>
<g id="n12"><text x="901.2" y="158.1">p300</text><path class="ln" d="M902.2 152.1H1402.6"/></g>
<g id="n13"><text x="1026.3" y="170.2">H32</text><path class="ln" d="M1027.3 164.2H1402.6"/></g>
<g id="n14"><text x="1026.3" y="182.3">H31</text><path class="ln" d="M1027.3 176.3H1402.6"/></g>
<g id="n15"><text x="1151.4" y="194.4">RORE (DNA)</text></g>
<g id="n16"><text x="1401.6" y="206.4">H2B3B</text></g>
<g id="n17"><text x="1401.6" y="218.5">H2B1C</text></g>
<g id="n18"><text x="1401.6" y="230.6">H2B1D</text></g>
<g id="n19"><text x="1401.6" y="242.6">H2B1K</text></g>
<g id="n20"><text x="1401.6" y="254.7">H2B1A</text></g>
<g id="n21"><text x="1401.6" y="266.8">H2B1B</text></g>
<g id="n22"><text x="1401.6" y="278.8">H2B1N</text></g>
<g id="n23"><text x="1401.6" y="290.9">H2B2F</text></g>
<g id="n24"><text x="1401.6" y="303">H2B2E</text></g>
<g id="n25"><text x="1401.6" y="315.1">HDAC1/2 deacetylase complexes</text></g>
<g id="n26"><text x="1401.6" y="327.1">HDAC10</text></g>
<g id="n27"><text x="1401.6" y="339.2">HDAC8</text></g>
<g id="n28"><text x="1026.3" y="351.3">JMJD1C</text></g>
<g id="n29"><text x="1401.6" y="363.3">H2A1</text></g>
<g id="n30"><text x="1401.6" y="375.4">H2A2B</text></g>
<g id="n31"><text x="1401.6" y="387.5">H2A1J</text></g>
<g id="n32"><text x="1401.6" y="399.5">H2A1D</text></g>
<g id="n33"><text x="1401.6" y="411.6">H2A1B</text></g>
<g id="n34"><text x="1401.6" y="423.7">H2A2A</text></g>
<g id="n35"><text x="1401.6" y="435.8">H2A1H</text></g>
<g id="n36"><text x="1401.6" y="447.8">H2A1C</text></g>
<g id="n37"><text x="1401.6" y="459.9">H2A2C</text></g>
<g id="n38"><text x="1401.6" y="472">H2A1A</text></g>
<g id="n39"><text x="1401.6" y="484">H2A3</text></g>
<g id="n40"><text x="1401.6" y="496.1">HMT2</text></g>
<g id="n41"><text x="1401.6" y="508.2">PRMT6</text></g>
<g id="n42"><text x="776.1" y="520.2">PDX1</text></g>
<g id="n43"><text x="776.1" y="532.3">INS</text></g>
<g id="n44"><text x="400.8" y="544.4">Potassium Channel, open (pancreatic beta cell)</text><path class="ln" d="M401.8 538.4H777.1"/></g>
<g id="n45"><text x="400.8" y="556.5">Voltage-gated Calcium Channels Type Cav1 (closed)</text><path class="ln" d="M401.8 550.5H777.1"/></g>
<g id="n46"><text x="400.8" y="568.5">FA9</text></g>
<g id="n47"><text x="901.2" y="580.6">DAG</text><path class="ln" d="M902.2 574.6H1527.7"/></g>
<g id="n48"><text x="150.6" y="592.7">Ca2+</text><path class="ln" d="M151.6 586.7H1527.7"/></g>
<g id="n49"><text x="150.6" y="604.7">OPSD</text><path class="ln" d="M151.6 598.7H1277.5"/></g>
<g id="n50"><text x="1026.3" y="616.8">PYGB</text></g>
<g id="n51"><text x="1401.6" y="628.9">CALM</text></g>
<g id="n52"><text x="150.6" y="640.9">TRPs</text><path class="ln" d="M151.6 634.9H1402.6"/></g>
<g id="n53"><text x="150.6" y="653">K+</text><path class="ln" d="M151.6 647H1402.6"/></g>
<g id="n54"><text x="150.6" y="665.1">(pancreatic beta cell)</text><path class="ln" d="M151.6 659.1H1402.6"/></g>
<g id="n55"><text x="150.6" y="677.2">IP3</text><path class="ln" d="M151.6 671.2H1402.6"/></g>
<g id="n56"><text x="150.6" y="689.2">Gated Ca2+ Channel</text><path class="ln" d="M151.6 683.2H1402.6"/></g>
<g id="n57"><text x="150.6" y="701.3">CLIC2</text><path class="ln" d="M151.6 695.3H1402.6"/></g>
<g id="n58"><text x="150.6" y="713.4">TPCN1/2</text><path class="ln" d="M151.6 707.4H1402.6"/></g>
<g id="n59"><text x="150.6" y="725.4">NAADP</text><path class="ln" d="M151.6 719.4H1402.6"/></g>
<g id="n60"><text x="150.6" y="737.5">SRI</text><path class="ln" d="M151.6 731.5H1402.6"/></g>
<g id="n61"><text x="776.1" y="749.6">VAMP2</text></g>
<g id="n62"><text x="776.1" y="761.6">SYT1</text></g>
<g id="n63"><text x="776.1" y="773.7">VGLU1</text></g>
<g id="n64"><text x="776.1" y="785.8">STXB1</text></g>
<g id="n65"><text x="776.1" y="797.9">RAB3A</text></g>
<g id="n66"><text x="150.6" y="809.9">ATP</text><path class="ln" d="M151.6 803.9H1402.6"/></g>
<g id="n67"><text x="776.1" y="822">UNC13B</text></g>
<g id="n68"><text x="776.1" y="834.1">CPLX1</text><path class="ln" d="M777.1 828.1H1027.3"/></g>
<g id="n69"><text x="776.1" y="846.1">NCAM1</text><path class="ln" d="M777.1 840.1H902.2"/></g>
<g id="n70"><text x="776.1" y="858.2">SNAP25</text><path class="ln" d="M777.1 852.2H1027.3"/></g>
<g id="n71"><text x="776.1" y="870.3">MUNC18</text><path class="ln" d="M777.1 864.3H1027.3"/></g>
<g id="n72"><text x="776.1" y="882.3">STX1A</text><path class="ln" d="M777.1 876.3H1027.3"/></g>
<g id="n73"><text x="776.1" y="894.4">L1</text></g>
<g id="n74"><text x="776.1" y="906.5">F-actin</text></g>
<g id="n75"><text x="776.1" y="918.6">EGFR</text></g>
<g id="n76"><text x="275.7" y="930.6">PPR1B</text></g>
<g id="n77"><text x="1526.7" y="942.7">GLI3</text></g>
<g id="n78"><text x="275.7" y="954.8">PKA catalytic subunit</text><path class="ln" d="M276.7 948.8H1527.7"/></g>
<g id="n79"><text x="651" y="966.8">CSNK1A1</text><path class="ln" d="M652 960.8H1527.7"/></g>
<g id="n80"><text x="1401.6" y="978.9">CTNNB1</text></g>
<g id="n81"><text x="1526.7" y="991">GLI2</text></g>
<g id="n82"><text x="651" y="1003">APC</text><path class="ln" d="M652 997H1402.6"/></g>
<g id="n83"><text x="651" y="1015.1">WTX</text><path class="ln" d="M652 1009.1H1402.6"/></g>
<g id="n84"><text x="525.9" y="1027.2">GSK3B</text><path class="ln" d="M526.9 1021.2H1527.7"/></g>
<g id="n85"><text x="525.9" y="1039.3">p-AKT</text></g>
<g id="n86"><text x="1276.5" y="1051.3">p-T308,S473-AKT1 E17K</text></g>
<g id="n87"><text x="1401.6" y="1063.4">HSF1</text></g>
<g id="n88"><text x="1151.4" y="1075.5">p-ERK dimer</text><path class="ln" d="M1152.4 1069.5H1402.6"/></g>
<g id="n89"><text x="1151.4" y="1087.5">FGFR2</text></g>
<g id="n90"><text x="150.6" y="1099.6">p-S1981-ATM</text></g>
<g id="n91"><text x="150.6" y="1111.7">BRCA2</text><path class="ln" d="M151.6 1105.7H1027.3"/></g>
<g id="n92"><text x="1026.3" y="1123.7">CDK4</text></g>
<g id="n93"><text x="150.6" y="1135.8">RAD51</text><path class="ln" d="M151.6 1129.8H1027.3"/></g>
<g id="n94"><text x="150.6" y="1147.9">BRCA1</text><path class="ln" d="M151.6 1141.9H1027.3"/></g>
<g id="n95"><text x="150.6" y="1160">ATM</text><path class="ln" d="M151.6 1154H1027.3"/></g>
<g id="n96"><text x="776.1" y="1172">p90rsk</text></g>
<g id="n97"><text x="776.1" y="1184.1">unidentified protein tyrosine kinase</text></g>
<g id="n98"><text x="776.1" y="1196.2">phospho-ERK-2</text></g>
<g id="n99"><text x="776.1" y="1208.2">L1CAM</text></g>
<g id="n100"><text x="901.2" y="1220.3">ERK</text></g>
<g id="n101"><text x="776.1" y="1232.4">Dynamin-1/2/3</text><path class="ln" d="M777.1 1226.4H1277.5"/></g>
<g id="n102"><text x="776.1" y="1244.4">SRC1</text><path class="ln" d="M777.1 1238.4H1402.6"/></g>
<g id="n103"><text x="1276.5" y="1256.5">CD14</text></g>
<g id="n104"><text x="1026.3" y="1268.6">PLCG1</text><path class="ln" d="M1027.3 1262.6H1402.6"/></g>
<g id="n105"><text x="1026.3" y="1280.7">PLCG2</text><path class="ln" d="M1027.3 1274.7H1277.5"/></g>
<g id="n106"><text x="1026.3" y="1292.7">BTK</text><path class="ln" d="M1027.3 1286.7H1277.5"/></g>
<g id="n107"><text x="1276.5" y="1304.8">p-SYK/p-BTK</text></g>
<g id="n108"><text x="1026.3" y="1316.9">SALL4</text></g>
<g id="n109"><text x="1026.3" y="1328.9">SOX2</text><path class="ln" d="M1027.3 1322.9H1402.6"/></g>
<g id="n110"><text x="1026.3" y="1341">OCT3</text><path class="ln" d="M1027.3 1335H1402.6"/></g>
<g id="n111"><text x="1026.3" y="1353.1">NANOG</text><path class="ln" d="M1027.3 1347.1H1402.6"/></g>
<g id="n112"><text x="901.2" y="1365.1">KLF4</text><path class="ln" d="M902.2 1359.1H1027.3"/></g>
<g id="n113"><text x="901.2" y="1377.2">GHRL</text></g>
<g id="n114"><text x="901.2" y="1389.3">TREH</text></g>
<g id="n115"><text x="901.2" y="1401.4">GLUC</text></g>
<g id="n116"><text x="901.2" y="1413.4">AcCho</text></g>
<g id="n117"><text x="901.2" y="1425.5">LEP</text><path class="ln" d="M902.2 1419.5H1152.4"/></g>
<g id="n118"><text x="901.2" y="1437.6">CEBPA</text><path class="ln" d="M902.2 1431.6H1152.4"/></g>
<g id="n119"><text x="901.2" y="1449.6">PPARG</text></g>
<g id="n120"><text x="1276.5" y="1461.7">MYH2-like proteins</text></g>
<g id="n121"><text x="776.1" y="1473.8">EXOC2</text><path class="ln" d="M777.1 1467.8H1277.5"/></g>
<g id="n122"><text x="776.1" y="1485.8">EXOC3</text><path class="ln" d="M777.1 1479.8H1277.5"/></g>
<g id="n123"><text x="776.1" y="1497.9">EXOC6</text><path class="ln" d="M777.1 1491.9H1277.5"/></g>
<g id="n124"><text x="776.1" y="1510">EXOC1</text><path class="ln" d="M777.1 1504H1277.5"/></g>
<g id="n125"><text x="776.1" y="1522.1">EXOC7</text><path class="ln" d="M777.1 1516.1H1277.5"/></g>
<g id="n126"><text x="776.1" y="1534.1">EXOC5</text><path class="ln" d="M777.1 1528.1H1277.5"/></g>
<g id="n127"><text x="776.1" y="1546.2">EXOC4</text><path class="ln" d="M777.1 1540.2H1277.5"/></g>
<g id="n128"><text x="776.1" y="1558.3">EXOC8</text><path class="ln" d="M777.1 1552.3H1277.5"/></g>
<g id="n129"><text x="901.2" y="1570.3">SET</text></g>
<g id="n130"><text x="400.8" y="1582.4">XPO1</text><path class="ln" d="M401.8 1576.4H902.2"/></g>
<g id="n131"><text x="651" y="1594.5">FGFR4</text><path class="ln" d="M652 1588.5H1152.4"/></g>
<g id="n132"><text x="651" y="1606.5">HS</text><path class="ln" d="M652 1600.5H1152.4"/></g>
<g id="n133"><text x="400.8" y="1618.6">REV (P04618) protein</text><path class="ln" d="M401.8 1612.6H1402.6"/></g>
<g id="n134"><text x="776.1" y="1630.7">BSG</text></g>
<g id="n135"><text x="776.1" y="1642.8">PPIA</text><path class="ln" d="M777.1 1636.8H1402.6"/></g>
<g id="n136"><text x="1401.6" y="1654.8">VPR</text></g>
<g id="n137"><text x="651" y="1666.9">myristoylated Nef Protein (UniProt:P04601)</text><path class="ln" d="M652 1660.9H1402.6"/></g>
<g id="n138"><text x="651" y="1679">FYN</text><path class="ln" d="M652 1673H902.2"/></g>
<g id="n139"><text x="776.1" y="1691">Src family tyrosine kinases (SFKs)</text></g>
<g id="n140"><text x="901.2" y="1703.1">PTPRA</text></g>
<g id="n141"><text x="651" y="1715.2">PAK2</text><path class="ln" d="M652 1709.2H777.1"/></g>
<g id="n142"><text x="776.1" y="1727.2">Ubiquitin ligase</text><path class="ln" d="M777.1 1721.2H1152.4"/></g>
<g id="n143"><text x="275.7" y="1739.3">NOTC1</text><path class="ln" d="M276.7 1733.3H1402.6"/></g>
<g id="n144"><text x="1151.4" y="1751.4">MIB/NEURL</text><path class="ln" d="M1152.4 1745.4H1402.6"/></g>
<g id="n145"><text x="275.7" y="1763.5">TMED2</text><path class="ln" d="M276.7 1757.5H1152.4"/></g>
<g id="n146"><text x="275.7" y="1775.5">NOTC2</text><path class="ln" d="M276.7 1769.5H1402.6"/></g>
<g id="n147"><text x="275.7" y="1787.6">NOTC3</text><path class="ln" d="M276.7 1781.6H1152.4"/></g>
<g id="n148"><text x="275.7" y="1799.7">NOTC4</text><path class="ln" d="M276.7 1793.7H1152.4"/></g>
<g id="n149"><text x="275.7" y="1811.7">FURIN</text><path class="ln" d="M276.7 1805.7H1152.4"/></g>
<g id="n150"><text x="1026.3" y="1823.8">COPA1</text><path class="ln" d="M1027.3 1817.8H1152.4"/></g>
<g id="n151"><text x="1026.3" y="1835.9">CONA1</text><path class="ln" d="M1027.3 1829.9H1152.4"/></g>
<g id="n152"><text x="1151.4" y="1847.9">MMP3,13</text></g>
<g id="n153"><text x="1026.3" y="1860">CO9A3</text><path class="ln" d="M1027.3 1854H1152.4"/></g>
<g id="n154"><text x="1026.3" y="1872.1">CO9A1</text><path class="ln" d="M1027.3 1866.1H1152.4"/></g>
<g id="n155"><text x="1026.3" y="1884.2">CO9A2</text><path class="ln" d="M1027.3 1878.2H1152.4"/></g>
<g id="n156"><text x="1026.3" y="1896.2">COHA1</text></g>
<g id="n157"><text x="1026.3" y="1908.3">CO7A1</text></g>
<g id="n158"><text x="1026.3" y="1920.4">COCA1</text></g>
<g id="n159"><text x="1026.3" y="1932.4">COGA1</text></g>
<g id="n160"><text x="1026.3" y="1944.5">COEA1</text></g>
<g id="n161"><text x="1026.3" y="1956.6">Lysyl hydroxylases</text></g>
<g id="n162"><text x="1026.3" y="1968.6">Procollagen galactosyltransferases</text></g>
<g id="n163"><text x="1026.3" y="1980.7">Procollagen N-proteinases</text></g>
<g id="n164"><text x="1026.3" y="1992.8">PCOLCEs</text></g>
<g id="n165"><text x="1026.3" y="2004.9">Procollagen C-proteinases</text></g>
<g id="n166"><text x="1026.3" y="2016.9">CO3A1</text></g>
<g id="n167"><text x="1026.3" y="2029">CORA1</text></g>
<g id="n168"><text x="1026.3" y="2041.1">CO1A1</text></g>
<g id="n169"><text x="1026.3" y="2053.1">COBA2</text></g>
<g id="n170"><text x="1026.3" y="2065.2">CO5A1</text></g>
<g id="n171"><text x="1026.3" y="2077.3">CO5A3</text></g>
<g id="n172"><text x="1026.3" y="2089.3">CO1A2</text></g>
<g id="n173"><text x="1026.3" y="2101.4">CO5A2</text></g>
<g id="n174"><text x="1026.3" y="2113.5">CO2A1</text></g>
<g id="n175"><text x="1026.3" y="2125.6">COOA1</text></g>
<g id="n176"><text x="1026.3" y="2137.6">COBA1</text></g>
</g>
</svg>
